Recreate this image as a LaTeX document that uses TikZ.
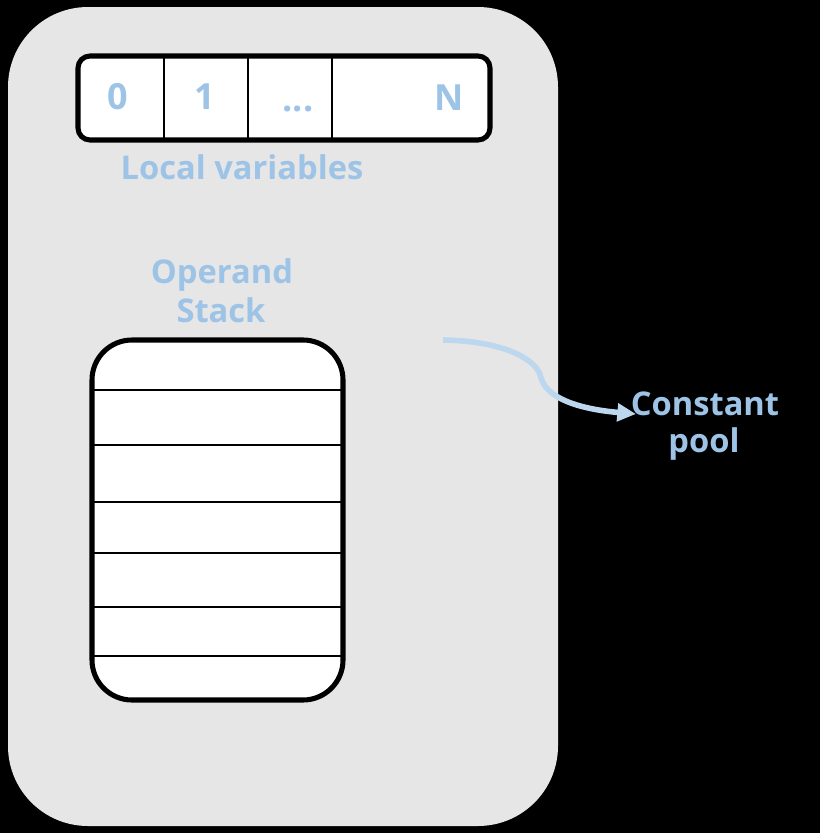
\documentclass[tikz,border=0pt]{standalone}
\usepackage{fontspec}
\setmainfont{Open Sans}
\usetikzlibrary{arrows.meta}
\definecolor{txtblue}{HTML}{9DC3E6}
\definecolor{arrblue}{HTML}{BDD7EE}
\definecolor{panelgray}{HTML}{E6E6E6}
\tikzset{
  lbl/.style={text=txtblue, font=\fontsize{24.5}{29}\selectfont\bfseries, inner sep=0pt, anchor=base},
  cell/.style={lbl, font=\fontsize{27}{32}\selectfont\bfseries},
  cellline/.style={line width=2pt, draw=black},
  boxline/.style={line width=3.8pt, draw=black, fill=white}
}
\begin{document}
\begin{tikzpicture}[x=0.75pt,y=-0.75pt]
\fill[black] (0,0) rectangle (820,833);
\useasboundingbox (0,0) rectangle (820,833);
% panel
\fill[panelgray, rounded corners=60pt] (8,7) rectangle (558,826);
% local variables box
\draw[boxline, rounded corners=9pt] (78,56) rectangle (490,140);
\draw[cellline] (164,58) -- (164,138);
\draw[cellline] (248,58) -- (248,138);
\draw[cellline] (332,58) -- (332,138);
\node[cell] (v0) at (118,109) {0};
\node[cell] (v1) at (205,109) {1};
\node[cell] (vd) at (298,111) {...};
\node[cell] (vn) at (449,110) {N};
\node[lbl] (lv) at (242,179) {Local variables};
% operand stack
\node[lbl] (op1) at (222,283) {Operand};
\node[lbl] (op2) at (221,322) {Stack};
\fill[white, rounded corners=30pt] (92,340) rectangle (343,700);
\foreach \yy in {390,445,502,553,607,656}
  \draw[cellline] (92,\yy) -- (343,\yy);
\draw[line width=3.8pt, rounded corners=30pt] (92,340) rectangle (343,700);
% constant pool
\node[lbl] (cp1) at (705,415) {Constant};
\node[lbl] (cp2) at (704,452) {pool};
\coordinate (src) at (443,340);
\coordinate (tip) at (636,414);
\draw[arrblue, line width=4.2pt, -{Triangle[length=14pt,width=13pt]}]
  (src) .. controls (505,341) and (538,360) .. (541,378)
        .. controls (548,402) and (590,410) .. (tip);
\end{tikzpicture}
\end{document}
